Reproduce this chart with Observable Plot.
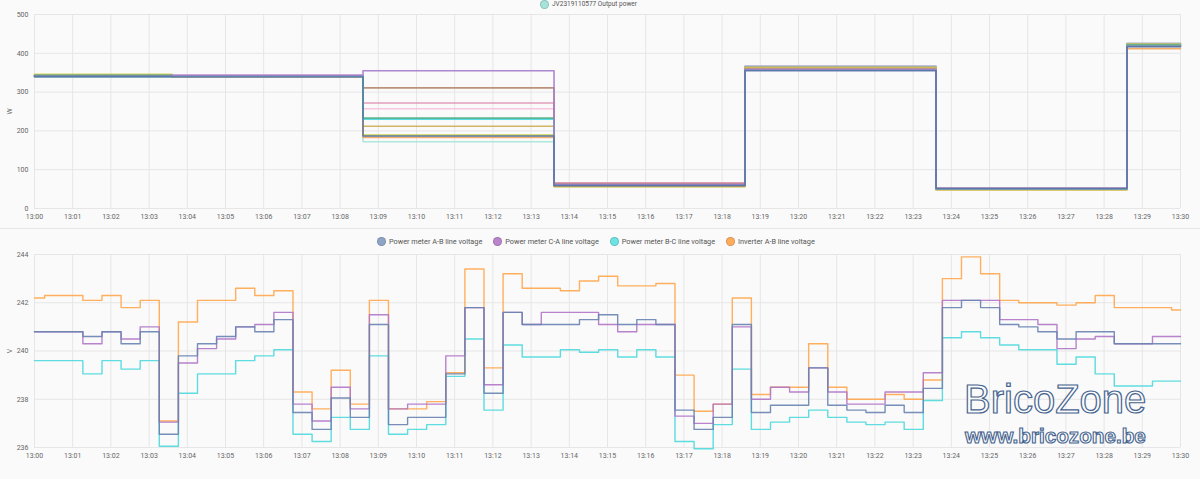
<!DOCTYPE html>
<html><head><meta charset="utf-8">
<script src="https://cdn.jsdelivr.net/npm/d3@7"></script>
<script src="https://cdn.jsdelivr.net/npm/@observablehq/plot@0.6"></script>
<style>
body{margin:0;background:#fafafa;font-family:Roboto,"Noto Sans",sans-serif;width:1200px;height:479px;overflow:hidden;position:relative;}
.abs{position:absolute;}
.legend{display:flex;gap:11px;font-size:7.3px;color:#555;align-items:center;white-space:nowrap;height:10px}
.legend .item{display:flex;align-items:center}
.legend .dot{display:inline-block;width:9px;height:9px;border-radius:50%;margin-right:3px;box-sizing:border-box;border:1px solid rgba(0,0,0,0.15)}
</style></head><body>
<div id="topLegend" class="abs legend" style="left:540px;top:0px;font-size:6.5px;height:8px"></div>
<div id="top" class="abs" style="left:0;top:0"></div>
<div class="abs" style="left:0;top:228px;width:1200px;height:1px;background:#e6e6e6"></div>
<div id="botLegend" class="abs legend" style="left:377px;top:236px"></div>
<div id="bot" class="abs" style="left:0;top:246px"></div>
<svg class="abs" style="left:0;top:0" width="1200" height="479">
  <text x="964" y="413" font-family="Liberation Sans, Arial, sans-serif" font-size="40" fill="rgba(255,255,255,0.55)" stroke="#46648f" stroke-width="1.2">BricoZone</text>
  <text x="965" y="443" font-family="Liberation Sans, Arial, sans-serif" font-weight="bold" font-size="20.7" fill="rgba(255,255,255,0.55)" stroke="#46648f" stroke-width="1.1">www.bricozone.be</text>
</svg>
<script>
// ---------- top panel: output power (W) ----------
const powerTimes = ["13:00:00","13:03:36","13:08:36","13:13:36","13:18:36","13:23:36","13:28:36"];
const powerNames = ["Output power 1","Output power 2","Output power 3","Output power 4","Output power 5","Output power 6","Output power 7","Output power 8","Output power 9","Output power 10","Output power 11","Output power 12","JV2319110577 Output power"];
const powerColors = ["#a47acc","#b5876b","#e094b4","#f7c0dc","#50b088","#48d8e4","#ccad52","#cfd44a","#f2a65a","#a0a0a0","#5874a6","#c4c4ec","#a6e3da"];
const p1  = [341, 343, 355, 62, 359, 51, 418];
const p2  = [342, 342, 311, 63, 360, 51, 419];
const p3  = [341, 342, 272, 66, 361, 52, 420];
const p4  = [342, 343, 257, 65, 362, 52, 421];
const p5  = [343, 342, 233, 60, 358, 50, 421];
const p6  = [340, 341, 230, 60, 357, 50, 420];
const p7  = [344, 341, 212, 57, 362, 49, 422];
const p8  = [346, 340, 189, 56, 363, 48, 423];
const p9  = [340, 340, 183, 58, 360, 49, 412];
const p10 = [341, 341, 188, 61, 366, 50, 425];
const p11 = [340, 339, 187, 59, 355, 52, 417];
const p12 = [342, 344, 186, 64, 368, 53, 426];
const p13 = [341, 341, 172, 63, 364, 51, 424];
const powerSeries = [p1,p2,p3,p4,p5,p6,p7,p8,p9,p10,p11,p12,p13];
const powerDrawOrder = [11, 12, 3, 2, 1, 9, 7, 6, 8, 5, 4, 0, 10];

// ---------- bottom panel: line voltage (V) ----------
const voltTimes = ["13:00:00",
 "13:00:16","13:00:46","13:01:16","13:01:46","13:02:16","13:02:46","13:03:16","13:03:46","13:04:16","13:04:46",
 "13:05:16","13:05:46","13:06:16","13:06:46","13:07:16","13:07:46","13:08:16","13:08:46","13:09:16","13:09:46",
 "13:10:16","13:10:46","13:11:16","13:11:46","13:12:16","13:12:46","13:13:16","13:13:46","13:14:16","13:14:46",
 "13:15:16","13:15:46","13:16:16","13:16:46","13:17:16","13:17:46","13:18:16","13:18:46","13:19:16","13:19:46",
 "13:20:16","13:20:46","13:21:16","13:21:46","13:22:16","13:22:46","13:23:16","13:23:46","13:24:16","13:24:46",
 "13:25:16","13:25:46","13:26:16","13:26:46","13:27:16","13:27:46","13:28:16","13:28:46","13:29:16","13:29:46"];
const voltNames = ["Power meter A-B line voltage","Power meter C-A line voltage","Power meter B-C line voltage","Inverter A-B line voltage"];
const voltColors = ["#6883b0","#b075c6","#4dd8dc","#ffa64d"];
const legendColors = ["#8fa5c8","#bb84cc","#6fe2e4","#ffad5c"];
const meterAB = [240.8,
 240.8,240.8,240.6,240.8,240.3,240.8,236.55,239.8,240.3,240.6,
 241.0,240.8,241.3,237.45,236.75,238.05,237.25,241.1,236.95,237.25,
 237.25,239.05,241.8,238.25,241.6,241.1,241.1,241.1,241.3,241.5,
 241.1,241.3,241.1,237.55,236.75,237.25,241.1,237.45,237.75,237.75,
 239.3,237.75,237.55,237.45,237.75,237.45,238.45,241.8,242.1,241.8,
 241.1,241.0,240.8,240.5,240.8,240.8,240.3,240.3,240.3,240.3];
const meterCA = [240.8,
 240.8,240.8,240.3,240.8,240.5,241.0,237.05,239.5,240.1,240.5,
 241.0,241.1,241.6,237.8,237.1,238.5,237.6,241.5,237.6,237.8,
 237.8,239.8,241.8,238.6,241.6,241.1,241.6,241.6,241.6,241.1,
 240.8,241.1,241.1,237.3,237.0,237.8,241.0,238.0,238.5,238.3,
 239.3,238.3,237.8,237.8,238.3,238.3,239.1,242.1,242.1,242.1,
 241.3,241.3,241.1,240.1,240.5,240.6,240.3,240.3,240.6,240.6];
const meterBC = [239.6,
 239.6,239.6,239.05,239.6,239.25,239.6,236.05,238.25,239.05,239.05,
 239.6,239.8,240.05,236.55,236.25,237.25,236.75,239.8,236.55,236.75,
 236.95,238.95,240.5,237.55,240.25,239.75,239.75,240.05,239.95,240.05,
 239.75,240.05,239.75,236.25,235.95,236.95,239.25,236.75,237.05,237.25,
 237.55,237.25,237.05,236.95,237.05,236.75,237.95,240.55,240.8,240.55,
 240.25,240.05,240.05,239.45,239.75,239.05,238.55,238.55,238.75,238.75];
const inverterAB = [242.2,
 242.3,242.3,242.1,242.3,241.8,242.1,237.1,241.2,242.1,242.1,
 242.6,242.3,242.5,238.3,237.6,239.2,237.8,242.1,237.6,237.6,
 237.9,239.1,243.4,239.3,243.2,242.6,242.6,242.5,242.9,243.1,
 242.7,242.7,242.8,239.0,237.5,237.8,242.2,238.2,238.5,238.5,
 240.3,238.5,238.0,238.0,238.2,238.0,238.8,243.0,243.9,243.2,
 242.1,242.0,242.0,241.9,242.0,242.3,241.8,241.8,241.8,241.7];
const voltSeries = [meterAB, meterCA, meterBC, inverterAB];
const voltDrawOrder = [2, 3, 1, 0];

const startTime = "13:00:00", endTime = "13:30:00";
const yTicksPower = [0,100,200,300,400,500];
const yTicksVolt = [236,238,240,242,244];

const parse = d3.utcParse("%H:%M:%S");
const t0 = parse(startTime), t1 = parse(endTime);
const xTicks = d3.utcMinute.range(t0, new Date(+t1 + 1));
const fmt = d3.utcFormat("%H:%M");

function rows(times, values) {
  const r = times.map((t, i) => ({t: parse(t), v: values[i]}));
  r.push({t: t1, v: values[values.length - 1]});
  return r;
}

const common = {
  width: 1200, marginLeft: 34, marginRight: 20,
  style: {background: "transparent", fontFamily: "Roboto, sans-serif", fontSize: "7px", color: "#666", overflow: "visible"}
};

const topPlot = Plot.plot({
  ...common, height: 228, marginTop: 14, marginBottom: 20,
  x: {type: "utc", domain: [t0, t1], ticks: xTicks, tickFormat: fmt, tickSize: 0, tickPadding: 6, label: null},
  y: {domain: [0, 500], ticks: yTicksPower, tickSize: 0, tickPadding: 6, label: "W", labelAnchor: "center", labelArrow: "none", labelOffset: 27},
  marks: [
    Plot.gridX(xTicks, {stroke: "#e6e6e6", strokeOpacity: 1}),
    Plot.gridY(yTicksPower, {stroke: "#e6e6e6", strokeOpacity: 1}),
    ...powerDrawOrder.map(i => Plot.line(rows(powerTimes, powerSeries[i]), {x: "t", y: "v", curve: "step-after", stroke: powerColors[i], strokeWidth: 1.6, strokeOpacity: 0.9}))
  ]
});
document.getElementById("top").appendChild(topPlot);

const botPlot = Plot.plot({
  ...common, height: 233, marginTop: 8, marginBottom: 32,
  x: {type: "utc", domain: [t0, t1], ticks: xTicks, tickFormat: fmt, tickSize: 0, tickPadding: 6, label: null},
  y: {domain: [236, 244], ticks: yTicksVolt, tickSize: 0, tickPadding: 6, label: "V", labelAnchor: "center", labelArrow: "none", labelOffset: 27},
  marks: [
    Plot.gridX(xTicks, {stroke: "#e6e6e6", strokeOpacity: 1}),
    Plot.gridY(yTicksVolt, {stroke: "#e6e6e6", strokeOpacity: 1}),
    ...voltDrawOrder.map(i => Plot.line(rows(voltTimes, voltSeries[i]), {x: "t", y: "v", curve: "step-after", stroke: voltColors[i], strokeWidth: 1.4, strokeOpacity: 0.9}))
  ]
});
document.getElementById("bot").appendChild(botPlot);

function legend(el, names, colors) {
  const c = document.getElementById(el);
  names.forEach((n, i) => {
    const it = document.createElement("div"); it.className = "item";
    const d = document.createElement("span"); d.className = "dot"; d.style.background = colors[i];
    const s = document.createElement("span"); s.textContent = n;
    it.appendChild(d); it.appendChild(s); c.appendChild(it);
  });
}
legend("botLegend", voltNames, legendColors);
legend("topLegend", [powerNames[12]], [powerColors[12]]);
</script>
</body></html>
